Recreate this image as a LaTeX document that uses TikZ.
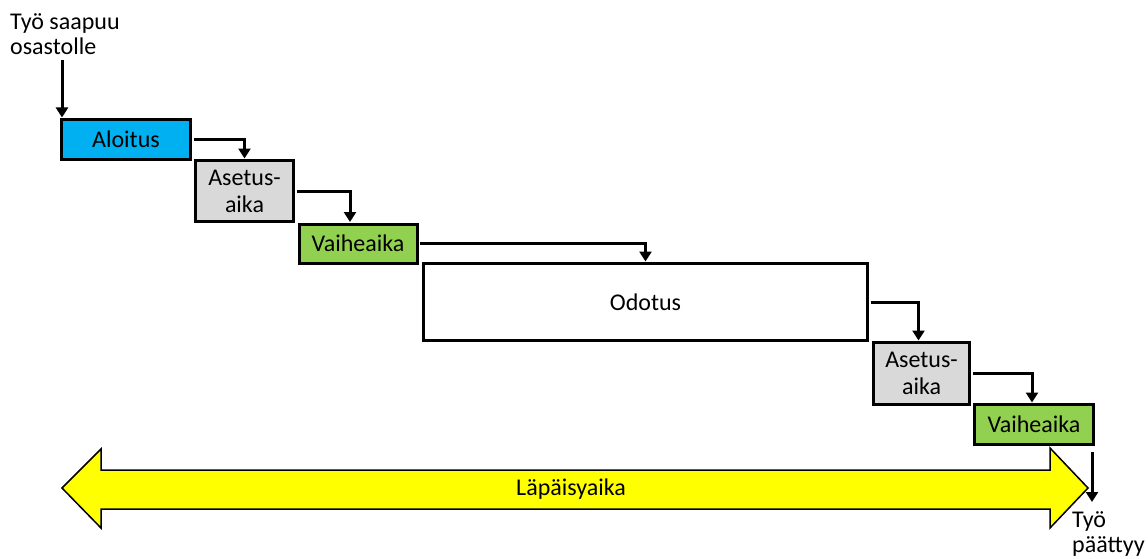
\documentclass[tikz,border=0pt]{standalone}
\usepackage{fontspec}
\setmainfont{Carlito}
\usetikzlibrary{arrows.meta,calc}
\definecolor{startblue}{HTML}{00B0F0}
\definecolor{setupgray}{HTML}{D9D9D9}
\definecolor{phasegreen}{HTML}{92D050}
\definecolor{flowyellow}{HTML}{FFFF00}
\tikzset{
  stagebox/.style={draw=black, line width=3pt, rectangle, inner sep=0pt, outer sep=0pt,
    align=center, font=\fontsize{24}{27}\selectfont},
  flowarrow/.style={line width=3pt, -{Triangle[length=10pt,width=12pt]}, shorten >=2pt},
  caption/.style={align=left, inner sep=0pt, font=\fontsize{24}{25}\selectfont}
}
\begin{document}
\begin{tikzpicture}[x=1pt,y=-1pt]
\useasboundingbox (0,0) rectangle (1148,559);

% stages
\node[stagebox, fill=startblue, minimum width=129pt, minimum height=40pt] (alku) at (126,139.5) {Aloitus};
\node[stagebox, fill=setupgray, minimum width=98pt, minimum height=61pt] (aset1) at (244.5,191) {Asetus-\\aika};
\node[stagebox, fill=phasegreen, minimum width=118pt, minimum height=39pt] (vaihe1) at (358,243.5) {Vaiheaika};
\node[stagebox, fill=white, minimum width=444pt, minimum height=77pt] (odotus) at (645.5,302) {Odotus};
\node[stagebox, fill=setupgray, minimum width=96pt, minimum height=62pt] (aset2) at (921.5,373.5) {Asetus-\\aika};
\node[stagebox, fill=phasegreen, minimum width=119pt, minimum height=40pt] (vaihe2) at (1034,424.5) {Vaiheaika};

% start and end labels
\node[caption, anchor=north west] (tulo) at (10,13) {Työ saapuu\\osastolle};
\coordinate (tuloalku) at (62,60);
\node[caption, anchor=north west] (loppu) at (1072,511) {Työ\\päättyy};
\coordinate (loppualku) at (1092,452);
\coordinate (loppuvasen) at (1092,502);

% connectors
\draw[flowarrow] (tuloalku) -- (tuloalku |- alku.north);
\draw[flowarrow, shorten <=3pt] (alku.east) -| (aset1.north);
\draw[flowarrow, shorten <=3pt] (aset1.east) -| ([xshift=-8pt]vaihe1.north);
\draw[flowarrow, shorten <=3pt] (vaihe1.east) -| (odotus.north);
\draw[flowarrow, shorten <=3pt] (odotus.east) -| ([xshift=-3pt]aset2.north);
\draw[flowarrow, shorten <=3pt] (aset2.east) -| ([xshift=-2pt]vaihe2.north);
\draw[flowarrow, shorten >=0pt] (loppualku) -- (loppuvasen);

% lead time double arrow
\draw[line width=1.5pt, fill=flowyellow, line join=miter]
  (62,488) -- (101,449) -- (101,470) -- (1050,470) -- (1050,448) -- (1088,488)
  -- (1050,528) -- (1050,509) -- (101,509) -- (101,528) -- cycle;
\node[font=\fontsize{24}{27}\selectfont] (lapi) at (571,489) {Läpäisyaika};
\end{tikzpicture}
\end{document}
